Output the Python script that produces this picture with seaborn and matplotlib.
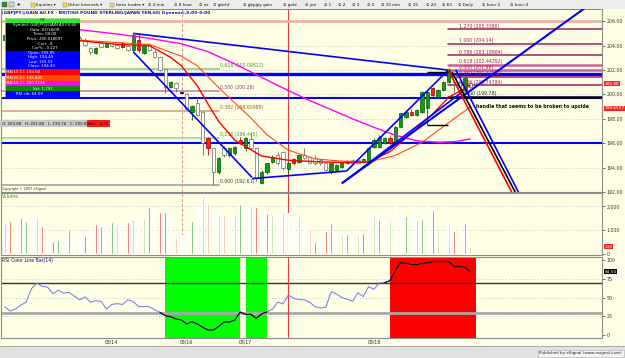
import numpy as np
import pandas as pd
import matplotlib
matplotlib.use("Agg")
import matplotlib.pyplot as plt
import seaborn as sns
from matplotlib.patches import Rectangle

sns.set_style("white")
plt.rcParams['font.family'] = ['DejaVu Sans']

# ---------------- data ----------------
opens = [204.45, 204.85, 204.40, 204.20, 204.45, 204.60, 204.30, 204.05, 204.30, 204.50,
         204.15, 204.25, 204.60, 204.45, 204.65, 204.50, 203.82, 203.36, 204.18, 203.90,
         204.18, 204.04, 204.18, 203.96, 203.63, 204.50, 203.36, 204.04, 203.49, 203.08,
         202.05, 200.62, 200.90, 200.15, 200.02, 198.57, 199.26, 198.57, 196.40, 195.57,
         193.66, 195.57, 195.02, 195.16, 196.25, 195.57, 196.33, 195.57, 192.75, 193.66,
         194.48, 195.02, 195.30, 193.85, 194.70, 194.48, 195.00, 194.89, 194.80, 194.60,
         194.34, 193.66, 193.80, 194.07, 194.34, 194.60, 194.60, 194.47, 194.47, 195.70,
         195.70, 195.98, 196.39, 195.98, 197.34, 198.16, 198.57, 198.30, 198.57, 198.90,
         200.49, 199.80, 200.35, 201.03, 201.58, 201.03, 200.35, 200.90]
highs = [205.00, 204.95, 204.60, 204.50, 204.70, 204.75, 204.40, 204.40, 204.55, 204.60,
         204.35, 204.70, 204.80, 204.70, 204.75, 204.60, 203.90, 203.90, 204.25, 204.30,
         204.25, 204.10, 204.30, 204.05, 205.00, 205.00, 204.10, 204.20, 203.60, 203.10,
         202.10, 201.10, 201.00, 200.20, 200.10, 199.10, 199.80, 198.60, 196.50, 195.60,
         194.90, 195.80, 195.65, 195.80, 196.50, 196.50, 196.80, 195.60, 193.80, 194.40,
         195.00, 195.30, 195.40, 194.49, 194.80, 195.10, 195.60, 194.95, 195.00, 194.70,
         194.40, 194.40, 194.30, 194.45, 194.60, 194.70, 194.70, 194.80, 195.70, 196.40,
         196.70, 196.50, 196.60, 197.40, 198.50, 198.70, 198.80, 198.80, 200.30, 200.30,
         200.60, 200.45, 201.10, 202.13, 201.70, 201.10, 201.40, 201.00]
lows = [204.35, 204.30, 204.10, 204.05, 204.30, 204.25, 203.95, 203.95, 204.20, 204.10,
        203.90, 204.20, 204.35, 204.30, 204.40, 203.95, 203.35, 203.30, 203.85, 203.85,
        203.90, 203.70, 203.80, 203.55, 203.55, 203.50, 203.30, 203.55, 203.00, 201.90,
        200.08, 200.50, 200.20, 200.10, 198.70, 197.90, 198.20, 195.02, 195.00, 192.61,
        193.50, 194.90, 194.90, 195.00, 195.90, 195.40, 195.50, 192.90, 192.65, 193.50,
        194.40, 194.20, 193.80, 193.53, 194.20, 194.40, 194.70, 194.30, 194.25, 194.20,
        193.70, 193.50, 193.70, 194.00, 194.30, 194.30, 194.35, 194.40, 194.40, 195.60,
        195.60, 195.90, 195.90, 195.90, 197.30, 198.10, 198.20, 198.20, 198.50, 197.48,
        199.80, 199.70, 200.30, 200.90, 200.10, 200.00, 200.20, 200.50]
closes = [204.85, 204.40, 204.20, 204.45, 204.60, 204.30, 204.05, 204.30, 204.50, 204.15,
          204.25, 204.60, 204.45, 204.65, 204.50, 204.04, 203.44, 203.82, 203.90, 204.18,
          203.95, 203.77, 203.88, 203.63, 204.86, 203.60, 204.04, 203.63, 203.08, 201.99,
          200.62, 201.03, 200.50, 200.12, 198.77, 199.04, 198.30, 195.98, 195.60, 193.66,
          194.80, 195.02, 195.57, 195.70, 195.98, 196.39, 195.62, 193.11, 193.66, 194.34,
          194.89, 194.34, 193.93, 194.40, 194.34, 195.02, 194.80, 194.34, 194.34, 194.34,
          193.80, 194.34, 194.20, 194.34, 194.55, 194.34, 194.40, 194.70, 195.62, 196.25,
          196.52, 196.39, 195.98, 197.34, 198.44, 198.57, 198.30, 198.71, 200.21, 200.20,
          199.94, 200.35, 201.03, 201.99, 201.03, 200.62, 201.31, 200.62]
candle_kind = ("GWWGGWWGGWGGWGWWWGWGWWRWGRGWWWWGWDWGWWRWGWGGRGWWGGGWWGRGWWWWWGGGGWWGGGGGRGGGRGGGRGGGWWGW")

volumes = [1312, 1384, 1272, 1551, 1384, 1551, 1565, 1160, 964, 545,
           587, 713, 1048, 657, 838, 755, 1272, 1272, 1188, 1565,
           1342, 1272, 1272, 1342, 1481, 1509, 1509, 1957, 1845, 1761,
           1775, 1509, 685, 800, 866, 1384, 1971, 2419, 2110, 1831,
           1635, 1621, 1328, 1677, 2110, 2026, 2026, 1984, 1887, 1705,
           1677, 1677, 1761, 1705, 1509, 1551, 1412, 1034, 517, 852,
           964, 1312, 978, 796, 852, 629, 796, 894, 1677, 1551,
           1412, 1509, 1384, 2026, 1677, 1579, 1733, 1481, 1481, 2054,
           1831, 964, 796, 1286, 964, 1286, 1286, 293]
volume_kind = ("gRgGGGrRgRGgGRgRrRGRGrRRrRgRrRRGrrrGRrrRgrRgGRrRGGgGrbGgRrRrRGggGGgRGgGRgGgGRgGGRgGgRRGr")

rsi_values = [38, 32, 35, 40, 44, 62, 69, 65, 64, 55,
              60, 56, 57, 52, 47, 51, 44, 46, 45, 35,
              41, 42, 41, 47, 45, 38, 38, 38, 34, 30.5,
              26, 24.7, 21.6, 20.3, 15, 18, 15, 10.6, 7, 7,
              12, 17.6, 17.6, 20.3, 30.8, 27.8, 27.8, 22.5, 28.3, 31,
              34.5, 44, 41.6, 53.5, 49, 47.4, 47, 43.8, 38, 36.3,
              37.1, 57.9, 54.9, 50, 47.8, 45.1, 56.6, 51.3, 64.6, 61.1,
              69.5, 69.8, 72.6, 86, 96.5, 95.6, 93.9, 93.9, 95.6, 96.1,
              97.8, 97.8, 97.8, 97.8, 91.2, 91.2, 90.3, 84.5]

ma10_bars = [14, 21, 27, 31, 33, 36, 38, 40, 43, 48, 53, 59, 64, 68, 72, 76, 80, 83, 87]
ma10_vals = [204.40, 204.10, 204.00, 203.04, 202.35, 200.70, 199.20, 197.78, 196.24, 194.95,
             194.60, 194.47, 194.41, 194.46, 195.31, 196.81, 198.41, 199.77, 200.73]
ma20_bars = [14, 21, 27, 33, 36, 40, 43, 46, 49, 53, 58, 63, 68, 73, 78, 83, 87]
ma20_vals = [204.45, 204.25, 204.10, 203.13, 202.34, 200.55, 199.30, 198.07, 196.69, 195.43,
             194.71, 194.53, 194.47, 195.00, 196.07, 197.69, 198.97]
ma50_bars = [14, 21, 27, 33, 38, 43, 48, 53, 57, 61, 65, 69, 73, 77, 81, 84, 87]
ma50_vals = [205.30, 204.95, 204.60, 204.15, 203.50, 202.50, 201.40, 200.31, 199.50, 198.75,
             198.00, 197.30, 196.65, 196.20, 196.08, 196.12, 196.35]

date_ticks = [20, 34, 45, 69]
date_labels = ['03/14', '03/16', '03/17', '03/18']
price_ticks = [192, 194, 196, 198, 200, 202, 204, 206]
volume_ticks = [0, 1000, 2000]
volume_tick_labels = ['0', '1,000', '2,000']
rsi_ticks = [0, 25, 50, 75, 100]

fib_ret_levels = [202.09812, 200.28, 198.65988, 196.445, 192.61]
fib_ret_labels = ['0.618 (202.09812)', '0.500 (200.28)', '0.382 (198.65988)',
                  '0.236 (196.445)', '0.000 (192.61)']
fib_ret_colors = ['#9CCC94', '#C88CB8', '#D4A898', '#A8D8A0', '#A8A8A8']
fib_ret_text = ['#3C963C', '#8E3A7A', '#9A5A40', '#3C963C', '#333333']
fib_ext_levels = [205.338, 204.14, 203.18984, 202.44292, 201.96, 201.44552, 200.74784, 199.78]
fib_ext_labels = ['1.270 (205.3380)', '1.000 (204.14)', '0.786 (203.18984)', '0.618 (202.44292)',
                  '0.500 (201.96)', '0.382 (201.44552)', '0.236 (200.74784)', '0.000 (199.78)']

# drawn tool lines: (bar0, price0, bar1, price1, colour, width)
tool_lines = [
    (24.0, 205.00, 82.8, 202.00, '#0000FF', 1.2),
    (24.0, 203.50, 46.2, 193.20, '#0000FF', 1.2),
    (46.2, 193.10, 63.9, 193.72, '#0000FF', 1.2),
    (63.0, 192.71, 108.5, 207.10, '#0000FF', 1.5),
    (63.9, 193.72, 82.9, 202.00, '#0000FF', 1.2),
    (63.0, 192.71, 85.5, 200.20, '#0000FF', 1.2),
    (82.9, 202.00, 94.75, 192.00, '#FF0000', 1.2),
    (83.6, 201.84, 95.4, 192.00, '#000000', 1.2),
    (84.3, 202.00, 96.0, 192.00, '#0000FF', 1.2),
    (78.9, 201.85, 82.9, 201.85, '#000000', 1.0),
    (79.0, 197.48, 82.9, 197.48, '#000000', 1.0),
]
full_hlines = [(206.0, '#EBB4A8', 2.0), (201.66, '#0000FF', 2.4),
               (199.68, '#0000FF', 1.5), (196.0, '#0000FF', 1.5)]

# ---------------- layout ----------------
W, H = 625, 358
BG = '#FFFFE6'
XL = (-0.71, 111.63)


def rect(x0, y0, x1, y1):
    return [x0 / W, 1 - y1 / H, (x1 - x0) / W, (y1 - y0) / H]


fig = plt.figure(figsize=(W / 100, H / 100), dpi=100)
fig.patch.set_facecolor(BG)


def style_panel(ax):
    ax.set_facecolor(BG)
    ax.set_xlim(*XL)
    for s in ax.spines.values():
        s.set_color('#8C8C8C')
        s.set_linewidth(0.8)
    ax.yaxis.tick_right()
    ax.tick_params(axis='y', labelsize=3.4, length=2, width=0.5, pad=1.5,
                   colors='#333333', left=False, right=True)
    ax.tick_params(axis='x', length=0)


idx = np.arange(len(opens))

# ---------- price panel ----------
axp = fig.add_axes(rect(1, 9, 602, 192))
style_panel(axp)
axp.set_ylim(192, 207)
axp.set_xticks([])
axp.set_yticks(price_ticks)
axp.set_yticklabels([f"{p:.2f}" for p in price_ticks])
for p in price_ticks:
    axp.axhline(p, color='#B4B4B4', lw=0.6, ls=(0, (1, 2.5)), zorder=1)
axp.axvline(33.1, color='#D09090', lw=0.7, ls=(0, (3, 2)), zorder=1)
axp.axvline(53, color='#E04040', lw=0.8, zorder=1)
for lev, col, lw in full_hlines:
    axp.axhline(lev, color=col, lw=lw, zorder=2)
for lev, lab, col, tcol in zip(fib_ret_levels, fib_ret_labels, fib_ret_colors, fib_ret_text):
    axp.plot([XL[0], 40.0], [lev, lev], color=col, lw=1.3, zorder=2)
    axp.text(40.2, lev + 0.06, lab, fontsize=3.3, color=tcol, va='bottom', ha='left', zorder=6)
for k, (lev, lab) in enumerate(zip(fib_ext_levels, fib_ext_labels)):
    if k == len(fib_ext_levels) - 1:
        axp.plot([82.9, XL[1]], [lev, lev], color='#000000', lw=1.8, zorder=2)
        axp.text(85.4, lev + 0.06, lab, fontsize=3.3, color='#222222', va='bottom', zorder=6)
    else:
        lw = 1.8 if k in (3, 4) else 1.2
        col = '#D0609A' if k in (3, 4) else '#A8306E'
        axp.plot([82.9, XL[1]], [lev, lev], color=col, lw=lw, zorder=2)
        axp.text(84.9, lev + 0.06, lab, fontsize=3.3, color='#9A2064', va='bottom', zorder=6)

kind_style = {'G': ('#129A12', '#005A00', '#005A00'),
              'W': ('#FFFFFF', '#6A6A6A', '#6A6A6A'),
              'R': ('#FF1A1A', '#A00000', '#D00000'),
              'D': ('#000000', '#000000', '#000000')}
for i in idx:
    o, h, l, c = opens[i], highs[i], lows[i], closes[i]
    face, edge, wick = kind_style[candle_kind[i]]
    axp.vlines(i, l, h, color=wick, lw=0.6, zorder=4)
    body = max(abs(c - o), 0.04)
    axp.bar(i, body, bottom=min(o, c), width=0.62, color=face, edgecolor=edge,
            linewidth=0.5, zorder=5)

sns.lineplot(x=ma50_bars, y=ma50_vals, ax=axp, color='#FF00FF', lw=1.0, zorder=6)
sns.lineplot(x=ma20_bars, y=ma20_vals, ax=axp, color='#FF4A1A', lw=0.8, zorder=6)
sns.lineplot(x=ma10_bars, y=ma10_vals, ax=axp, color='#FF0000', lw=1.0, zorder=6)
for x0, y0, x1, y1, col, lw in tool_lines:
    axp.plot([x0, x1], [y0, y1], color=col, lw=lw, zorder=7, solid_capstyle='butt')
axp.set_xlim(*XL)
axp.set_ylim(192, 207)
axp.set_xlabel('')
axp.set_ylabel('')
axp.text(88.1, 198.97, 'handle that seems to be broken to upside', fontsize=3.4,
         fontweight='bold', color='#111111', va='center', zorder=8)
ytr = axp.get_yaxis_transform()
axp.text(1.004, 200.88, '200.88', transform=ytr, fontsize=3.1, color='white', va='center',
         bbox=dict(boxstyle='square,pad=0.15', fc='#FF2020', ec='none'), clip_on=False)
axp.text(1.004, 198.86, '198.6537', transform=ytr, fontsize=3.1, color='white', va='center',
         bbox=dict(boxstyle='square,pad=0.15', fc='#FF2020', ec='none'), clip_on=False)

# ---------- volume panel ----------
axv = fig.add_axes(rect(1, 192.5, 602, 254.5))
style_panel(axv)
axv.set_ylim(-21, 2579)
axv.set_xticks([])
axv.set_yticks(volume_ticks)
axv.set_yticklabels(volume_tick_labels)
for v in volume_ticks[1:]:
    axv.axhline(v, color='#B4B4B4', lw=0.6, ls=(0, (1, 2.5)), zorder=1)
axv.axvline(33.1, color='#D09090', lw=0.7, ls=(0, (3, 2)), zorder=1)
axv.axvline(53, color='#E04040', lw=0.8, zorder=1)
vcol = {'G': '#3CA03C', 'g': '#A6D89C', 'R': '#EE3030', 'r': '#F4A8A0', 'b': '#8888DD'}
axv.bar(idx, volumes, width=0.3, color=[vcol[k] for k in volume_kind], zorder=3)
vtr = axv.get_yaxis_transform()
axv.text(1.004, 300, '136', transform=vtr, fontsize=3.1, color='white', va='center',
         bbox=dict(boxstyle='square,pad=0.15', fc='#FF2020', ec='none'), clip_on=False)

# ---------- RSI panel ----------
axr = fig.add_axes(rect(1, 256.5, 602, 338.3))
style_panel(axr)
axr.set_ylim(-4.0, 104.6)
axr.set_yticks(rsi_ticks)
axr.set_yticklabels([str(t) for t in rsi_ticks])
for v in (25, 50, 75):
    axr.axhline(v, color='#B4B4B4', lw=0.6, ls=(0, (1, 2.5)), zorder=1)
rsi = np.array(rsi_values)
n = len(rsi)


def runs(mask):
    out, start = [], None
    for i, m in enumerate(mask):
        if m and start is None:
            start = i
        if not m and start is not None:
            out.append((start, i - 1))
            start = None
    if start is not None:
        out.append((start, len(mask) - 1))
    return out


low_runs = runs(rsi < 30)
high_runs = runs(rsi > 70)
for a, b in low_runs:
    axr.axvspan(a, b + 1, color='#00FF00', zorder=1, lw=0)
for a, b in high_runs:
    axr.axvspan(a, b + 1, color='#FF0000', zorder=1, lw=0)
axr.axhline(70, color='#333333', lw=1.0, zorder=2)
axr.axhline(30, color='#A8A8A8', lw=2.0, zorder=2)
axr.axvline(53, color='#E04040', lw=0.8, zorder=2)
sns.lineplot(x=idx, y=rsi, ax=axr, color='#7272F0', lw=0.7, zorder=3)
for a, b in low_runs + high_runs:
    s0, s1 = max(a - 1, 0), min(b + 2, n)
    sns.lineplot(x=idx[s0:s1], y=rsi[s0:s1], ax=axr, color='#000000', lw=0.8, zorder=4)
axr.set_xlim(*XL)
axr.set_ylim(-4.0, 104.6)
axr.set_xlabel('')
axr.set_ylabel('')
axr.set_xticks(date_ticks)
axr.set_xticklabels(date_labels, fontsize=3.3, color='#222222')
axr.tick_params(axis='x', pad=1.0, length=0)
rtr = axr.get_yaxis_transform()
axr.text(1.004, 84.5, '84.50', transform=rtr, fontsize=3.1, color='white', va='center',
         bbox=dict(boxstyle='square,pad=0.15', fc='#000000', ec='none'), clip_on=False)

# ---------- texts on panels ----------
def ftext(x, y, s, **kw):
    fig.text(x / W, 1 - y / H, s, **kw)


ftext(2, 13, '|GBPJPY@GAIN A0.FX - BRITISH POUND STERLING/JAPAN YEN,60| Dynamic|,0:00-0:00',
      fontsize=3.2, color='#1010C8', fontweight='bold', va='center')
ftext(2, 189, 'Copyright \u00a9 2007 eSignal', fontsize=2.4, color='#333333', va='center')
ftext(2, 197, 'Volume', fontsize=3.3, color='#2E9A2E', va='center')
ftext(2, 260.5, 'RSI Color Line Bar(14)', fontsize=3.3, color='#101060', va='center')

# ---------- toolbar ----------
axt = fig.add_axes(rect(0, 0, 625, 9))
axt.set_xlim(0, W)
axt.set_ylim(9, 0)
axt.axis('off')
axt.add_patch(Rectangle((0, 0), W, 9, fc='#ECECEC', ec='none'))
axt.plot([0, W], [8.8, 8.8], color='#A0A0A0', lw=0.6)
axt.add_patch(Rectangle((2, 2), 5, 5, fc='#3A8A3A', ec='#555555', lw=0.3))
axt.add_patch(Rectangle((9, 2), 5, 5, fc='#D8D8D8', ec='#555555', lw=0.3))
axt.text(17, 4.6, '\u271a', fontsize=3.0, va='center', color='#222222')
folders = [('Equities \u25be', 32), ('Other Intervals \u25be', 64), ('forex trades \u25be', 111)]
for lab, x in folders:
    axt.add_patch(Rectangle((x - 1, 2.5), 4, 4, fc='#F2D36A', ec='#A08020', lw=0.3))
    axt.text(x + 4.5, 4.6, lab, fontsize=3.0, va='center', color='#111111')
buttons = [('4 min', 147.5), ('8 hour', 173.8), ('es', 199.3), ('gbchf', 213.2),
           ('gbpjpy gain', 243.1), ('gold', 283.4), ('ym', 305.3), ('1', 323.6),
           ('2', 338.0), ('3', 352.3), ('5', 366.7), ('10 min', 381.0), ('15', 408.5),
           ('20', 425.6), ('60', 442.4), ('Daily', 458.4), ('hour 2', 482.3), ('hour 4', 510.2)]
for lab, x in buttons:
    axt.text(x, 4.6, '\u2299 ' + lab, fontsize=3.0, va='center', color='#111111')

# ---------- info box ----------
axi = fig.add_axes(rect(5, 18, 80, 97))
axi.set_xlim(0, 75)
axi.set_ylim(79, 0)
axi.axis('off')
sections = [(0, 4.7, '#22EE22'), (4.7, 32.7, '#000000'), (32.7, 50.7, '#0000FF'),
            (50.7, 56.7, '#FF0000'), (56.7, 62.7, '#FF4A00'), (62.7, 68.0, '#FF00FF'),
            (68.0, 73.3, '#008A00'), (73.3, 79.0, '#0000FF')]
for y0, y1, col in sections:
    axi.add_patch(Rectangle((0, y0), 75, y1 - y0, fc=col, ec='none'))
axi.add_patch(Rectangle((0, 0), 75, 79, fc='none', ec='#CCCCCC', lw=0.5))
axi.text(37.5, 2.35, 'OK', fontsize=2.8, ha='center', va='center', color='#003300')
black_lines = ['Symbol: GBPJPY@GAIN A0.FX,60', 'Date: 03/18/08', 'Time: 09:00',
               'Price: 200.018697', 'Curr: -8', 'Cur%: -0.227']
for k, s in enumerate(black_lines):
    axi.text(40, 4.7 + 4.67 * (k + 0.5), s, fontsize=2.8, ha='center', va='center', color='white')
blue_lines = ['Open: 193.85', 'High: 194.49', 'Low: 193.53', 'Close: 194.40']
for k, s in enumerate(blue_lines):
    axi.text(36, 32.7 + 4.5 * (k + 0.5), s, fontsize=2.8, ha='center', va='center', color='white')
axi.text(1, 53.7, 'MA(10,C): 194.60', fontsize=2.8, va='center', color='white')
axi.text(1, 59.7, 'MA(20,C): 195.425', fontsize=2.8, va='center', color='white')
axi.text(1, 65.35, 'MA(50,C): 200.3146', fontsize=2.8, va='center', color='white')
axi.text(38, 70.65, 'Vol: 1,797', fontsize=2.8, ha='center', va='center', color='white')
axi.text(24, 76.15, 'RSI clb: 64.09', fontsize=2.8, ha='center', va='center', color='white')

# ---------- OHLC status strip ----------
axs = fig.add_axes(rect(0, 120, 110, 127))
axs.set_xlim(0, 110)
axs.set_ylim(7, 0)
axs.axis('off')
axs.add_patch(Rectangle((0, 0), 87, 7, fc='#C8C8C8', ec='none'))
axs.add_patch(Rectangle((87, 0), 23, 7, fc='#FF1A1A', ec='none'))
axs.text(1.5, 3.5, 'O: 200.88   H: 201.88   L: 199.76   C: 200.88', fontsize=2.8,
         va='center', color='#111111')
axs.text(89, 3.5, 'Net: -0.32', fontsize=2.8, va='center', color='#111111')

# ---------- bottom strip ----------
axb = fig.add_axes(rect(0, 346, 625, 358))
axb.set_xlim(0, W)
axb.set_ylim(12, 0)
axb.axis('off')
axb.add_patch(Rectangle((0, 0), W, 12, fc='#E2E2E2', ec='none'))
axb.plot([0, W], [0.3, 0.3], color='#A0A0A0', lw=0.6)
axb.add_patch(Rectangle((538, 3.5), 86, 7.5, fc='#F4F4F4', ec='#B0B0B0', lw=0.4))
axb.text(622, 7.3, 'Published by eSignal (www.esignal.com)', fontsize=3.0,
         ha='right', va='center', color='#222222')

fig.savefig('out.png', dpi=100, facecolor=fig.get_facecolor())
